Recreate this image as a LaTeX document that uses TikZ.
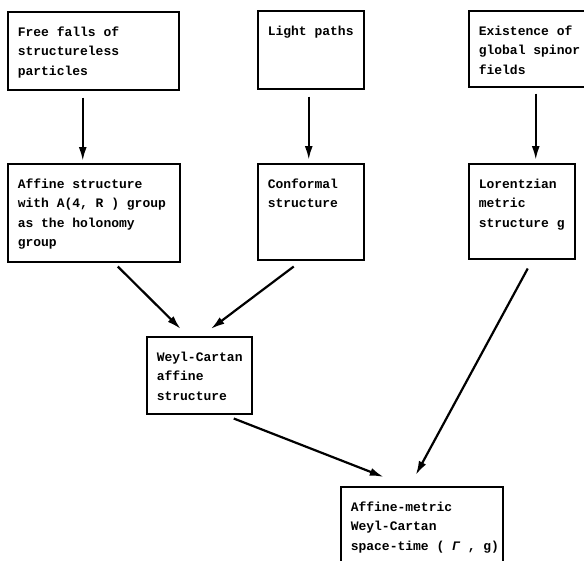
\documentclass[tikz,border=0pt]{standalone}
\usepackage{fontspec}
\setmonofont{Liberation Mono}
\usetikzlibrary{arrows.meta}
\newcommand\boxtxt[3]{\parbox[t][#2][t]{#1}{\strut #3}}
\tikzset{
  box/.style={draw, line width=1.5pt, anchor=north west, inner xsep=10pt, inner ysep=11pt,
    font=\ttfamily\bfseries\fontsize{13}{19.5}\selectfont},
  arr/.style={line width=2.2pt, -{Latex[length=14pt,width=8pt]}}
}
\begin{document}
\begin{tikzpicture}[x=1pt,y=-1pt]
\useasboundingbox (0,0) rectangle (584,560);
\clip (0,0) rectangle (584,560);
\fill[white] (0,0) rectangle (584,560);
\node[box] (ff) at (7,11) {\boxtxt{151pt}{56pt}{\mbox{Free falls of}\\\mbox{structureless}\\\mbox{particles}}};
\node[box] (lp) at (257,10) {\boxtxt{86pt}{56pt}{\mbox{Light paths}}};
\node[box] (ex) at (468,10) {\boxtxt{98pt}{54pt}{\mbox{Existence of}\\\mbox{global spinor}\\\mbox{fields}}};
\node[box] (af) at (7,163) {\boxtxt{152pt}{76pt}{\mbox{Affine structure}\\\mbox{with A(4, R ) group}\\\mbox{as the holonomy}\\\mbox{group}}};
\node[box] (cf) at (257,163) {\boxtxt{86pt}{74pt}{\mbox{Conformal}\\\mbox{structure}}};
\node[box] (lo) at (468,163) {\boxtxt{86pt}{73pt}{\mbox{Lorentzian}\\\mbox{metric}\\\mbox{structure g}}};
\node[box] (wc) at (146,336) {\boxtxt{85pt}{55pt}{\mbox{Weyl-Cartan}\\\mbox{affine}\\\mbox{structure}}};
\node[box] (am) at (340,486) {\boxtxt{142pt}{54pt}{\mbox{Affine-metric}\\\mbox{Weyl-Cartan}\\\mbox{space-time ( {\itshape Γ} , g)}}};
\draw[arr] ([xshift=-10.5pt,yshift=-7pt]ff.south) -- ([xshift=-11pt,yshift=2pt]af.north);
\draw[arr] ([xshift=-2pt,yshift=-7pt]lp.south) -- ([xshift=-2pt,yshift=3pt]cf.north);
\draw[arr] ([xshift=8pt,yshift=-6pt]ex.south) -- ([xshift=14pt,yshift=3pt]lo.north);
\draw[arr] ([xshift=24pt,yshift=-4pt]af.south) -- ([xshift=-18.5pt,yshift=7pt]wc.north);
\draw[arr] ([xshift=-17pt,yshift=-6pt]cf.south) -- ([xshift=11.5pt,yshift=7pt]wc.north);
\draw[arr] ([xshift=6pt,yshift=-9pt]lo.south) -- ([xshift=-6pt,yshift=11pt]am.north);
\draw[arr] ([xshift=34.5pt,yshift=-4pt]wc.south) -- ([xshift=-38pt,yshift=9pt]am.north);
\end{tikzpicture}
\end{document}
